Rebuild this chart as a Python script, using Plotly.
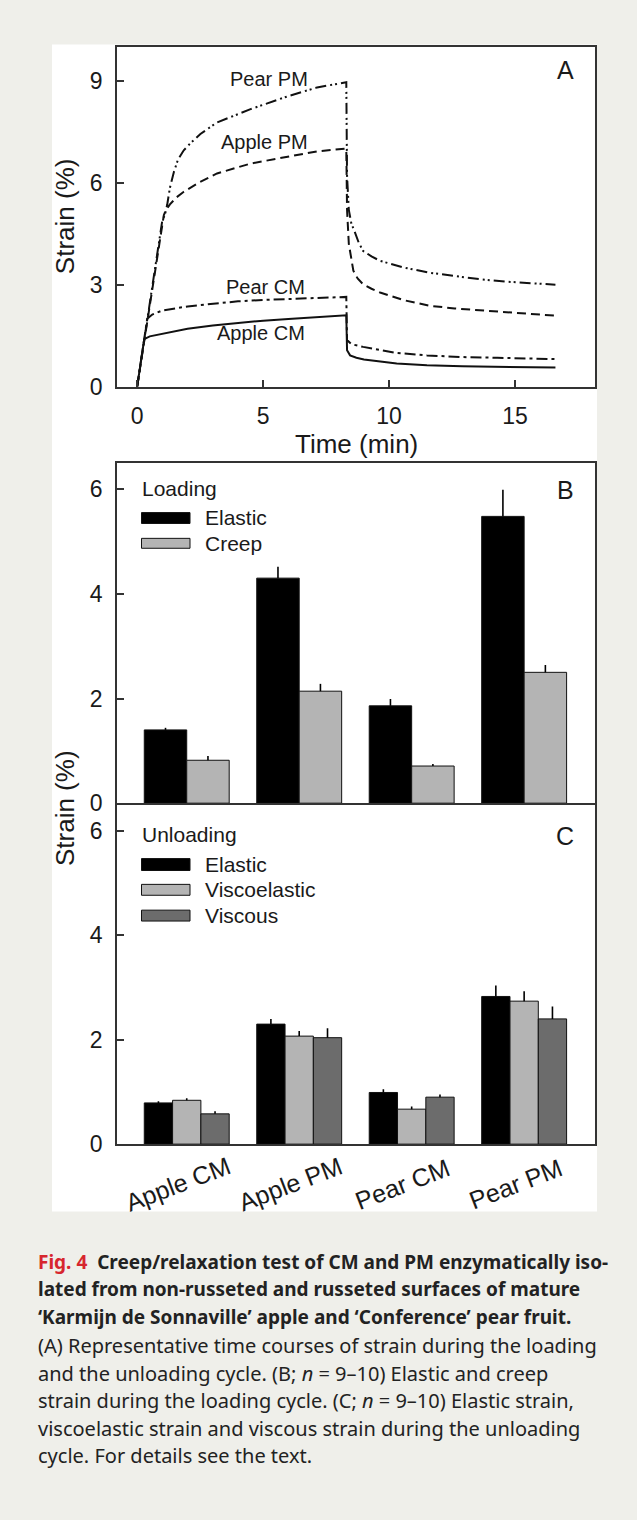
import plotly.graph_objects as go

# ---------------- Data ----------------
# Panel A: representative time courses (time in min, strain in %)
apple_cm_t = [0, 0.28, 0.5, 1.0, 2.0, 3.0, 4.0, 5.0, 6.0, 7.0, 8.3, 8.33, 8.45, 8.7, 9.0, 10.3, 11.5, 12.9, 14.3, 15.6, 16.6]
apple_cm_v = [0, 1.40, 1.48, 1.56, 1.70, 1.80, 1.88, 1.94, 1.99, 2.04, 2.10, 1.07, 0.92, 0.85, 0.80, 0.68, 0.63, 0.60, 0.58, 0.57, 0.56]

pear_cm_t = [0, 0.40, 0.6, 1.0, 2.0, 3.0, 4.0, 5.0, 6.0, 7.0, 8.3, 8.33, 8.5, 8.97, 10.3, 11.5, 12.9, 14.3, 15.6, 16.6]
pear_cm_v = [0, 2.00, 2.12, 2.24, 2.36, 2.44, 2.51, 2.55, 2.58, 2.62, 2.64, 1.37, 1.25, 1.17, 0.99, 0.92, 0.87, 0.85, 0.83, 0.81]

apple_pm_t = [0, 1.0, 1.06, 1.15, 1.3, 1.55, 1.85, 2.5, 3.17, 4.5, 5.82, 7.14, 8.3, 8.33, 8.4, 8.5, 8.58, 8.75, 8.97, 9.3, 9.64, 10.6, 11.6, 12.6, 13.6, 14.6, 15.6, 16.6]
apple_pm_v = [0, 4.90, 5.05, 5.20, 5.36, 5.56, 5.73, 6.02, 6.27, 6.56, 6.75, 6.92, 7.00, 5.20, 4.20, 3.70, 3.41, 3.18, 3.01, 2.88, 2.77, 2.54, 2.38, 2.30, 2.24, 2.18, 2.14, 2.09]

pear_pm_t = [0, 1.0, 1.1, 1.19, 1.3, 1.46, 1.62, 1.85, 2.1, 2.51, 3.17, 4.5, 5.82, 7.14, 8.3, 8.33, 8.4, 8.5, 8.65, 8.8, 8.97, 9.3, 9.64, 10.6, 11.6, 12.6, 13.6, 14.6, 15.6, 16.6]
pear_pm_v = [0, 4.90, 5.05, 5.34, 5.85, 6.32, 6.68, 6.95, 7.15, 7.43, 7.77, 8.16, 8.50, 8.80, 8.95, 6.20, 5.20, 4.80, 4.52, 4.22, 3.99, 3.83, 3.70, 3.50, 3.35, 3.25, 3.16, 3.09, 3.04, 3.00]

# Panels B and C: means and (upper) standard errors
groups = ["Apple CM", "Apple PM", "Pear CM", "Pear PM"]

load_elastic = [1.40, 4.30, 1.86, 5.48]
load_elastic_err = [0.04, 0.22, 0.13, 0.51]
load_creep = [0.82, 2.14, 0.71, 2.50]
load_creep_err = [0.08, 0.14, 0.04, 0.14]

unload_elastic = [0.79, 2.30, 0.99, 2.83]
unload_elastic_err = [0.03, 0.10, 0.06, 0.21]
unload_viscoelastic = [0.84, 2.07, 0.67, 2.74]
unload_viscoelastic_err = [0.04, 0.10, 0.05, 0.19]
unload_viscous = [0.58, 2.04, 0.90, 2.40]
unload_viscous_err = [0.05, 0.18, 0.05, 0.24]

# ---------------- Styling helpers ----------------
W, H = 637, 1520
FONT = "Liberation Sans, Arial, sans-serif"
INK = "#1a1a1a"
C_ELASTIC = "#000000"
C_LIGHT = "#b4b4b4"
C_DARK = "#6c6c6c"


def px(x):
    return x / W


def py(y):
    return 1 - y / H


fig = go.Figure()

line_w = 2.0
fig.add_trace(go.Scatter(x=apple_cm_t, y=apple_cm_v, mode="lines", xaxis="x", yaxis="y",
                         line=dict(color="#111", width=line_w, dash="solid")))
fig.add_trace(go.Scatter(x=pear_cm_t, y=pear_cm_v, mode="lines", xaxis="x", yaxis="y",
                         line=dict(color="#111", width=line_w, dash="11px,4px,3px,4px")))
fig.add_trace(go.Scatter(x=apple_pm_t, y=apple_pm_v, mode="lines", xaxis="x", yaxis="y",
                         line=dict(color="#111", width=line_w, dash="9px,5px")))
fig.add_trace(go.Scatter(x=pear_pm_t, y=pear_pm_v, mode="lines", xaxis="x", yaxis="y",
                         line=dict(color="#111", width=line_w, dash="11px,4px,2px,3px,2px,4px")))


def err(arr):
    return dict(type="data", symmetric=False, array=arr, arrayminus=[0] * len(arr),
                width=0, thickness=1.6, color="#000")


bar_line = dict(color="#111", width=1)
fig.add_trace(go.Bar(x=groups, y=load_elastic, error_y=err(load_elastic_err), xaxis="x2", yaxis="y2",
                     marker=dict(color=C_ELASTIC, line=bar_line)))
fig.add_trace(go.Bar(x=groups, y=load_creep, error_y=err(load_creep_err), xaxis="x2", yaxis="y2",
                     marker=dict(color=C_LIGHT, line=bar_line)))
fig.add_trace(go.Bar(x=groups, y=unload_elastic, error_y=err(unload_elastic_err), xaxis="x3", yaxis="y3",
                     marker=dict(color=C_ELASTIC, line=bar_line)))
fig.add_trace(go.Bar(x=groups, y=unload_viscoelastic, error_y=err(unload_viscoelastic_err), xaxis="x3", yaxis="y3",
                     marker=dict(color=C_LIGHT, line=bar_line)))
fig.add_trace(go.Bar(x=groups, y=unload_viscous, error_y=err(unload_viscous_err), xaxis="x3", yaxis="y3",
                     marker=dict(color=C_DARK, line=bar_line)))

xdom = [px(117), px(595)]
axis_common = dict(showline=True, mirror=True, linecolor="#333", linewidth=1.8,
                   showgrid=False, zeroline=False, ticklen=7, tickwidth=1.5,
                   tickcolor="#333", tickfont=dict(family=FONT, size=23, color=INK))

fig.update_layout(
    width=W, height=H,
    margin=dict(l=0, r=0, t=0, b=0),
    paper_bgcolor="#efefea",
    plot_bgcolor="white",
    showlegend=False,
    barmode="group",
    bargap=0.245,
    bargroupgap=0,
    xaxis=dict(domain=xdom, anchor="y", range=[-0.8, 18.17], tickvals=[0, 5, 10, 15],
               ticks="inside", ticklabelstandoff=8, **axis_common),
    yaxis=dict(domain=[py(390), py(47)], anchor="x", range=[0, 10], tickvals=[0, 3, 6, 9],
               ticks="inside", ticklabelstandoff=8, **axis_common),
    xaxis2=dict(domain=xdom, anchor="y2", range=[-0.62, 3.63], type="category",
                showticklabels=False, ticks="", **axis_common),
    yaxis2=dict(domain=[py(810.1), py(467)], anchor="x2", range=[0, 6.5], tickvals=[0, 2, 4, 6],
                ticks="inside", ticklabelstandoff=8, **axis_common),
    xaxis3=dict(domain=xdom, anchor="y3", range=[-0.62, 3.63], type="category",
                showticklabels=False, ticks="", **axis_common),
    yaxis3=dict(domain=[py(1154), py(811.9)], anchor="x3", range=[0, 6.5], tickvals=[0, 2, 4, 6],
                ticks="inside", ticklabelstandoff=8, **axis_common),
)

shapes = [dict(type="rect", xref="paper", yref="paper", x0=px(52), x1=px(597), y0=py(1222), y1=py(45),
               fillcolor="white", line=dict(width=0), layer="below")]

annotations = []


def txt(x, y, s, size, anchor="center", angle=0, color=INK, family=FONT):
    annotations.append(dict(x=px(x), y=py(y), xref="paper", yref="paper", text=s, showarrow=False,
                            xanchor=anchor, yanchor="middle", textangle=angle,
                            font=dict(family=family, size=size, color=color)))


# axis titles
txt(356, 448, "Time (min)", 26)
txt(65, 218, "Strain (%)", 26, angle=-90)
txt(65, 815, "Strain (%)", 26, angle=-90)

# panel letters
txt(565, 71, "A", 25)
txt(565, 494, "B", 25)
txt(565, 843, "C", 25)

# curve labels
txt(269, 80, "Pear PM", 20)
txt(264, 143, "Apple PM", 20)
txt(265, 289, "Pear CM", 20)
txt(261, 336, "Apple CM", 20)


# legends (drawn manually)
def legend_box(y0, y1, color):
    shapes.append(dict(type="rect", xref="paper", yref="paper", x0=px(141.5), x1=px(190),
                       y0=py(y1), y1=py(y0), fillcolor=color, line=dict(color="#111", width=1)))


txt(140, 493, "Loading", 21, anchor="left")
legend_box(517, 528, C_ELASTIC)
txt(203, 522, "Elastic", 21, anchor="left")
legend_box(543, 553, C_LIGHT)
txt(203, 548, "Creep", 21, anchor="left")

txt(140, 842, "Unloading", 21, anchor="left")
legend_box(866, 878, C_ELASTIC)
txt(203, 872, "Elastic", 21, anchor="left")
legend_box(892, 903, C_LIGHT)
txt(203, 897, "Viscoelastic", 21, anchor="left")
legend_box(918, 929, C_DARK)
txt(203, 923, "Viscous", 21, anchor="left")

# rotated category labels for panel C
for g in groups:
    annotations.append(dict(x=g, xref="x3", y=py(1194), yref="paper", text=g, showarrow=False,
                            xanchor="center", yanchor="middle", textangle=-21, xshift=-9,
                            font=dict(family=FONT, size=25, color=INK)))

# caption
CAP = "Noto Sans, Open Sans, sans-serif"
red = "<span style='color:#d7262e'><b>Fig. 4</b></span>"
cap_bold = [
    red + "<b>  Creep/relaxation test of CM and PM enzymatically iso-</b>",
    "<b>lated from non-russeted and russeted surfaces of mature</b>",
    "<b>‘Karmijn de Sonnaville’ apple and ‘Conference’ pear fruit.</b>",
]
cap_regular = [
    "(A) Representative time courses of strain during the loading",
    "and the unloading cycle. (B; <i>n</i> = 9–10) Elastic and creep",
    "strain during the loading cycle. (C; <i>n</i> = 9–10) Elastic strain,",
    "viscoelastic strain and viscous strain during the unloading",
    "cycle. For details see the text.",
]
cap_y = [1273, 1300, 1328, 1357, 1385, 1413, 1441, 1468]
for s, yy in zip(cap_bold, cap_y[:3]):
    txt(36, yy, s, 19, anchor="left", color="#222", family=CAP)
for s, yy in zip(cap_regular, cap_y[3:]):
    txt(36, yy, s, 20, anchor="left", color="#222", family=CAP)

fig.update_layout(shapes=shapes, annotations=annotations)
fig.write_html("out.html")
